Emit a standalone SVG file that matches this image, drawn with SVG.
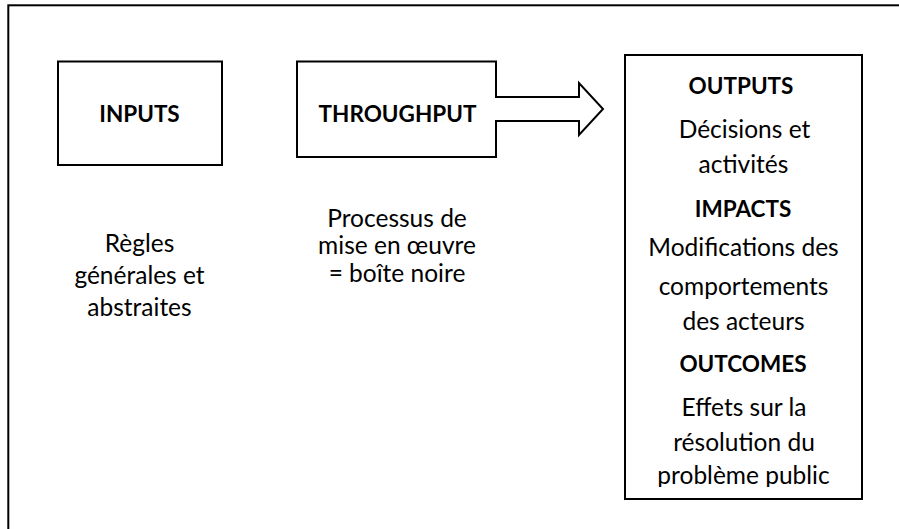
<svg xmlns="http://www.w3.org/2000/svg" width="899" height="529" viewBox="0 0 899 529">
  <style>
    .box { fill: #ffffff; stroke: #000000; stroke-width: 2; }
    .t { font-family: Lato, "Liberation Sans", sans-serif; font-size: 24.5px; fill: #000000; text-anchor: middle; }
    .b { font-weight: bold; font-size: 22.5px; }
  </style>
  <defs>
    <clipPath id="outClip">
      <rect x="626" y="56" width="235" height="431"/>
    </clipPath>
  </defs>
  <rect x="0" y="0" width="899" height="529" fill="#ffffff"/>
  <rect id="frame" x="8.3" y="5.3" width="960" height="600" fill="none" stroke="#000000" stroke-width="2"/>

  <g id="inputs">
    <rect class="box" x="58" y="61.5" width="164" height="103.5"/>
    <text class="t b" x="139.5" y="121.5">INPUTS</text>
    <text class="t" x="139.5" y="252">Règles</text>
    <text class="t" x="139.5" y="283.5">générales et</text>
    <text class="t" x="139.5" y="315.5">abstraites</text>
  </g>

  <g id="throughput">
    <path class="box" d="M297,61.5 H496 V97 H579 V83 L603,109 L579,135 V121 H496 V157 H297 Z"/>
    <text class="t b" x="397.5" y="121.5">THROUGHPUT</text>
    <text class="t" x="397" y="226.5">Processus de</text>
    <text class="t" x="397" y="254">mise en œuvre</text>
    <text class="t" x="397" y="281.5">= boîte noire</text>
  </g>

  <g id="outputs">
    <rect class="box" x="625" y="55" width="237" height="444"/>
    <g clip-path="url(#outClip)">
      <text class="t b" x="741" y="94">OUTPUTS</text>
      <text class="t" x="744.5" y="138">Décisions et</text>
      <text class="t" x="743.5" y="173">activités</text>
      <text class="t b" x="743" y="216.5">IMPACTS</text>
      <text class="t" x="743.5" y="256">Modifications des</text>
      <text class="t" x="743.5" y="295">comportements</text>
      <text class="t" x="743.5" y="330">des acteurs</text>
      <text class="t b" x="743" y="372">OUTCOMES</text>
      <text class="t" x="744" y="415.5">Effets sur la</text>
      <text class="t" x="744" y="451">résolution du</text>
      <text class="t" x="743.5" y="484">problème public</text>
    </g>
  </g>

  <g id="connectors"></g>
</svg>
